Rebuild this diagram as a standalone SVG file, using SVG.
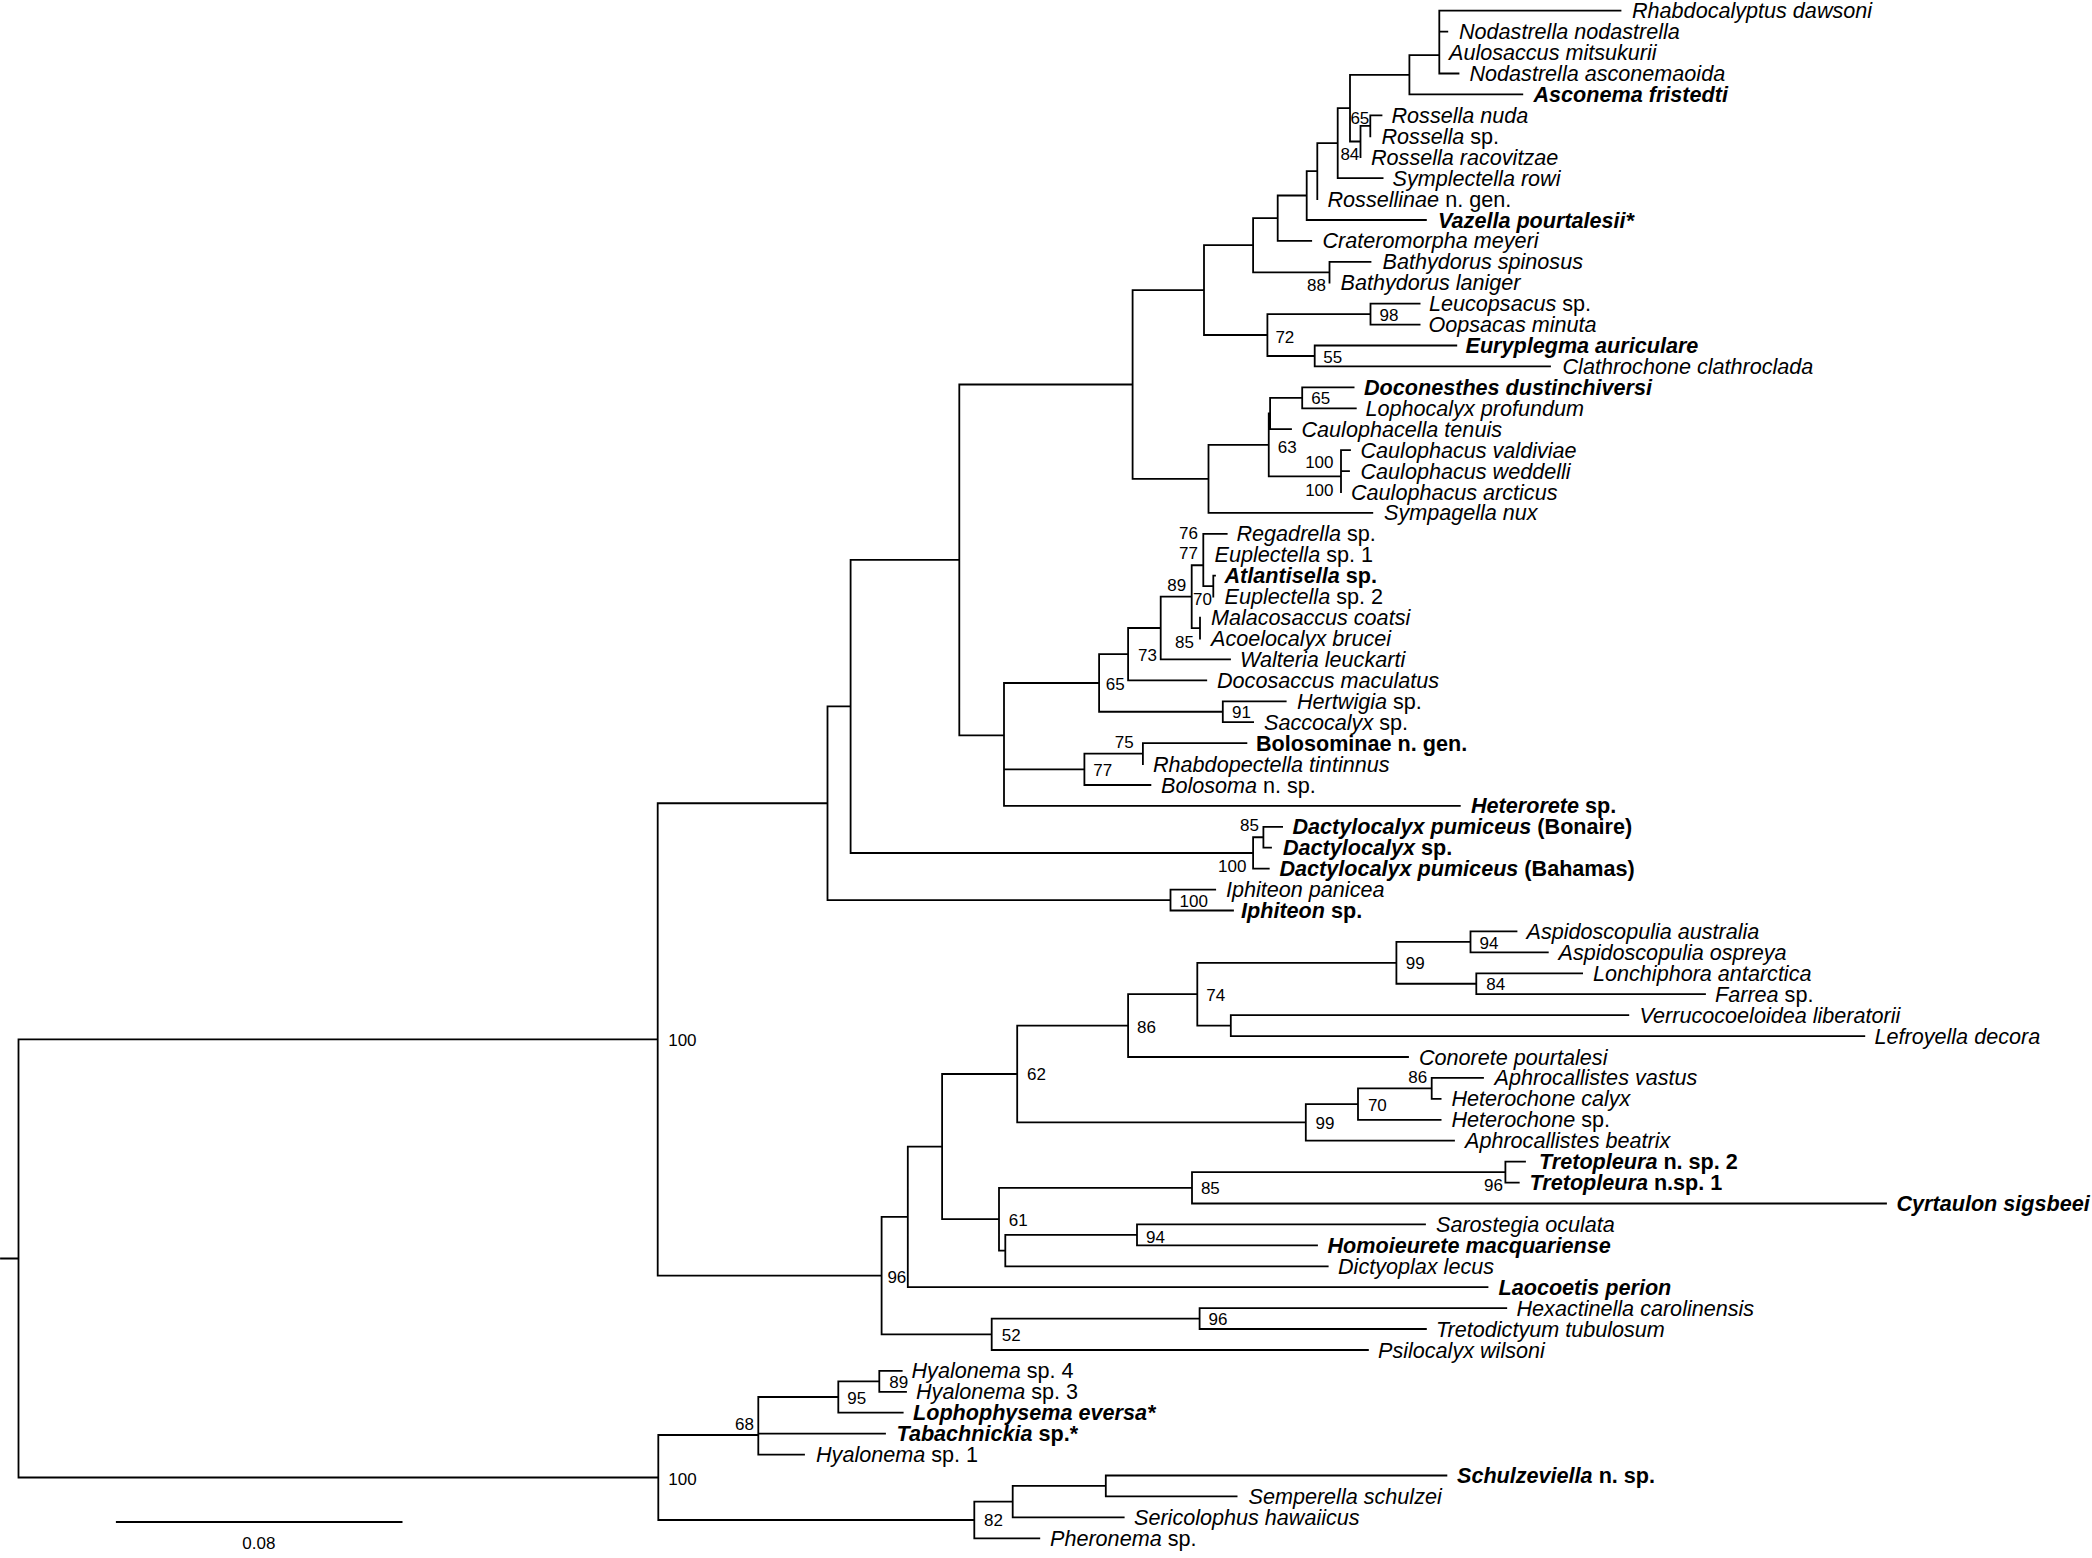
<svg xmlns="http://www.w3.org/2000/svg" width="2092" height="1558" viewBox="0 0 2092 1558">
<style>
.br{fill:none;stroke:#000;stroke-width:1.8;stroke-linecap:square}
.t{font-family:"Liberation Sans",Arial,Helvetica,sans-serif;font-size:21.6px;fill:#000}
.i{font-style:italic}
.b{font-weight:bold}
.s{font-family:"Liberation Sans",Arial,Helvetica,sans-serif;font-size:17px;fill:#000}
.e{text-anchor:end}
</style>
<rect width="2092" height="1558" fill="#fff"/>
<g id="connectors">
<path class="br" d="M1439.3 10.7V73.5M1439.3 10.7H1620.5M1439.3 31.6H1447.3M1439.3 73.5H1458.5
M1409.4 55.2V94.4M1409.4 55.2H1439.3M1409.4 94.4H1522.3
M1370.3 115.3V136.3M1370.3 115.3H1381.5
M1360.5 125.8V157.2M1360.5 125.8H1370.3
M1350 74.8V141.5M1350 74.8H1409.4M1350 141.5H1360.5
M1337.7 108.2V178.1M1337.7 108.2H1350M1337.7 178.1H1382.6
M1317.3 143.2V199M1317.3 143.2H1337.7
M1306.7 171.1V220M1306.7 171.1H1317.3M1306.7 220H1425.9
M1277.7 195.5V240.9M1277.7 195.5H1306.7M1277.7 240.9H1311.2
M1329.5 261.8V282.7M1329.5 261.8H1370.5
M1253.1 218.2V272.3M1253.1 218.2H1277.7M1253.1 272.3H1329.5
M1370.5 303.7V324.6M1370.5 303.7H1419.6M1370.5 324.6H1419.6
M1314.7 345.5V366.4M1314.7 345.5H1456.3M1314.7 366.4H1550
M1267.4 314.1V356M1267.4 314.1H1370.5M1267.4 356H1314.7
M1204 245.2V335M1204 245.2H1253.1M1204 335H1267.4
M1302.2 387.4V408.3M1302.2 387.4H1353.6M1302.2 408.3H1355.8
M1270.1 397.8V429.2M1270.1 397.8H1302.2M1270.1 429.2H1291
M1341 450.1V492M1341 450.1H1350M1341 471.1H1349
M1268.75 413.5V476.3M1268.75 413.5H1270.1M1268.75 476.3H1341
M1208.5 444.9V512.9M1208.5 444.9H1268.75M1208.5 512.9H1372.3
M1132.6 290.1V478.9M1132.6 290.1H1204M1132.6 478.9H1208.5
M1203.3 533.9V586.15M1203.3 533.9H1226.7M1203.3 586.15H1213.3
M1213.3 575.7V596.6M1213.3 575.7H1215
M1200 617.6V638.5
M1191.7 565.25V628.05M1191.7 565.25H1203.3M1191.7 628.05H1200
M1160.7 596.65V659.4M1160.7 596.65H1191.7M1160.7 659.4H1230
M1128.1 628V680.3M1128.1 628H1160.7M1128.1 680.3H1206.25
M1222.8 701.3V722.2M1222.8 701.3H1285.7M1222.8 722.2H1253.1
M1099.1 654.2V711.75M1099.1 654.2H1128.1M1099.1 711.75H1222.8
M1142.9 743.1V764M1142.9 743.1H1246.4
M1084.4 753.55V785M1084.4 753.55H1142.9M1084.4 785H1150.4
M1004 683V805.9M1004 769.3H1084.4M1004 805.9H1459.8M1004 683H1099.1
M959.3 384.5V735.3M959.3 384.5H1132.6M959.3 735.3H1004
M1263.4 826.8V847.7M1263.4 826.8H1282.1M1263.4 847.7H1271
M1253.1 837.25V868.7M1253.1 837.25H1263.4M1253.1 868.7H1268.75
M850.6 559.9V853M850.6 559.9H959.3M850.6 853H1253.1
M1170.5 889.6V910.5M1170.5 889.6H1215.2M1170.5 910.5H1233
M827.5 706.45V900.05M827.5 706.45H850.6M827.5 900.05H1170.5
M1470.5 931.4V952.4M1470.5 931.4H1516.5M1470.5 952.4H1547.8
M1476.3 973.3V994.2M1476.3 973.3H1582.1M1476.3 994.2H1705
M1396.4 941.9V983.75M1396.4 941.9H1470.5M1396.4 983.75H1476.3
M1230.8 1015.1V1036.1M1230.8 1015.1H1628.3M1230.8 1036.1H1864.3
M1197.3 962.8V1025.6M1197.3 962.8H1396.4M1197.3 1025.6H1230.8
M1128.1 994.2V1057M1128.1 994.2H1197.3M1128.1 1057H1408
M1431.7 1077.9V1098.9M1431.7 1077.9H1483M1431.7 1098.9H1440.6
M1358 1088.4V1119.8M1358 1088.4H1431.7M1358 1119.8H1440.6
M1305.8 1104.1V1140.7M1305.8 1104.1H1358M1305.8 1140.7H1454
M1017.2 1025.6V1122.4M1017.2 1025.6H1128.1M1017.2 1122.4H1305.8
M1505.4 1161.6V1182.6M1505.4 1161.6H1525M1505.4 1182.6H1518.75
M1192 1172.1V1203.5M1192 1172.1H1505.4M1192 1203.5H1886
M1137 1224.4V1245.3M1137 1224.4H1425M1137 1245.3H1317
M1005.3 1234.85V1266.3M1005.3 1234.85H1137M1005.3 1266.3H1327.7
M999 1187.8V1250.6M999 1187.8H1192M999 1250.6H1005.3
M942.1 1074V1219.2M942.1 1074H1017.2M942.1 1219.2H999
M907.8 1146.6V1287.2M907.8 1146.6H942.1M907.8 1287.2H1487.5
M1199.6 1308.1V1329M1199.6 1308.1H1506.25M1199.6 1329H1425.9
M991.7 1318.55V1350M991.7 1318.55H1199.6M991.7 1350H1367.9
M881.6 1216.9V1334.3M881.6 1216.9H907.8M881.6 1334.3H991.7
M657.7 803.25V1275.6M657.7 803.25H827.5M657.7 1275.6H881.6
M879.3 1370.9V1391.8M879.3 1370.9H901.7M879.3 1391.8H906
M838.3 1381.35V1412.7M838.3 1381.35H879.3M838.3 1412.7H902.7
M758.3 1397V1454.6M758.3 1397H838.3M758.3 1433.7H885M758.3 1454.6H804
M1105.8 1475.5V1496.4M1105.8 1475.5H1446.4M1105.8 1496.4H1236.6
M1012.7 1485.95V1517.4M1012.7 1485.95H1105.8M1012.7 1517.4H1123.7
M974.3 1501.7V1538.3M974.3 1501.7H1012.7M974.3 1538.3H1039.3
M658.3 1435V1520M658.3 1435H758.3M658.3 1520H974.3
M18.5 1039.4V1477.5M18.5 1039.4H657.7M18.5 1477.5H658.3M1 1258.5H18.5"/>
</g>
<g id="scale-bar">
<path class="br" d="M116.8 1522H401.6"/>
<text class="s" x="258.9" y="1549" text-anchor="middle">0.08</text>
</g>
<g id="leaves">
<g id="leaf-0"><text class="t i" x="1632" y="18.2">Rhabdocalyptus dawsoni</text></g>
<g id="leaf-1"><text class="t i" x="1459" y="39.1">Nodastrella nodastrella</text></g>
<g id="leaf-2"><text class="t i" x="1449" y="60.1">Aulosaccus mitsukurii</text></g>
<g id="leaf-3"><text class="t i" x="1469.5" y="81">Nodastrella asconemaoida</text></g>
<g id="leaf-4"><text class="t i b" x="1533.5" y="101.9">Asconema fristedti</text></g>
<g id="leaf-5"><text class="t i" x="1391.5" y="122.8">Rossella nuda</text></g>
<g id="leaf-6"><text class="t" x="1381.5" y="143.8"><tspan class="i">Rossella</tspan> sp.</text></g>
<g id="leaf-7"><text class="t i" x="1371" y="164.7">Rossella racovitzae</text></g>
<g id="leaf-8"><text class="t i" x="1392.5" y="185.6">Symplectella rowi</text></g>
<g id="leaf-9"><text class="t" x="1327.5" y="206.5"><tspan class="i">Rossellinae</tspan> n. gen.</text></g>
<g id="leaf-10"><text class="t i b" x="1438" y="227.5">Vazella pourtalesii*</text></g>
<g id="leaf-11"><text class="t i" x="1322.5" y="248.4">Crateromorpha meyeri</text></g>
<g id="leaf-12"><text class="t i" x="1382.5" y="269.3">Bathydorus spinosus</text></g>
<g id="leaf-13"><text class="t i" x="1340.5" y="290.2">Bathydorus laniger</text></g>
<g id="leaf-14"><text class="t" x="1429" y="311.2"><tspan class="i">Leucopsacus</tspan> sp.</text></g>
<g id="leaf-15"><text class="t i" x="1428.5" y="332.1">Oopsacas minuta</text></g>
<g id="leaf-16"><text class="t i b" x="1465.5" y="353">Euryplegma auriculare</text></g>
<g id="leaf-17"><text class="t i" x="1562.5" y="373.9">Clathrochone clathroclada</text></g>
<g id="leaf-18"><text class="t i b" x="1364" y="394.9">Doconesthes dustinchiversi</text></g>
<g id="leaf-19"><text class="t i" x="1365.5" y="415.8">Lophocalyx profundum</text></g>
<g id="leaf-20"><text class="t i" x="1301.5" y="436.7">Caulophacella tenuis</text></g>
<g id="leaf-21"><text class="t i" x="1360.5" y="457.6">Caulophacus valdiviae</text></g>
<g id="leaf-22"><text class="t i" x="1360.5" y="478.6">Caulophacus weddelli</text></g>
<g id="leaf-23"><text class="t i" x="1351" y="499.5">Caulophacus arcticus</text></g>
<g id="leaf-24"><text class="t i" x="1384" y="520.4">Sympagella nux</text></g>
<g id="leaf-25"><text class="t" x="1236.5" y="541.4"><tspan class="i">Regadrella</tspan> sp.</text></g>
<g id="leaf-26"><text class="t" x="1214.5" y="562.3"><tspan class="i">Euplectella</tspan> sp. 1</text></g>
<g id="leaf-27"><text class="t b" x="1224.5" y="583.2"><tspan class="i">Atlantisella</tspan> sp.</text></g>
<g id="leaf-28"><text class="t" x="1224.5" y="604.1"><tspan class="i">Euplectella</tspan> sp. 2</text></g>
<g id="leaf-29"><text class="t i" x="1211" y="625.1">Malacosaccus coatsi</text></g>
<g id="leaf-30"><text class="t i" x="1211" y="646">Acoelocalyx brucei</text></g>
<g id="leaf-31"><text class="t i" x="1240" y="666.9">Walteria leuckarti</text></g>
<g id="leaf-32"><text class="t i" x="1217" y="687.8">Docosaccus maculatus</text></g>
<g id="leaf-33"><text class="t" x="1297" y="708.8"><tspan class="i">Hertwigia</tspan> sp.</text></g>
<g id="leaf-34"><text class="t" x="1264" y="729.7"><tspan class="i">Saccocalyx</tspan> sp.</text></g>
<g id="leaf-35"><text class="t b" x="1256" y="750.6">Bolosominae n. gen.</text></g>
<g id="leaf-36"><text class="t i" x="1153" y="771.5">Rhabdopectella tintinnus</text></g>
<g id="leaf-37"><text class="t" x="1161" y="792.5"><tspan class="i">Bolosoma</tspan> n. sp.</text></g>
<g id="leaf-38"><text class="t b" x="1471" y="813.4"><tspan class="i">Heterorete</tspan> sp.</text></g>
<g id="leaf-39"><text class="t b" x="1292.5" y="834.3"><tspan class="i">Dactylocalyx pumiceus</tspan> (Bonaire)</text></g>
<g id="leaf-40"><text class="t b" x="1283" y="855.2"><tspan class="i">Dactylocalyx</tspan> sp.</text></g>
<g id="leaf-41"><text class="t b" x="1279.5" y="876.2"><tspan class="i">Dactylocalyx pumiceus</tspan> (Bahamas)</text></g>
<g id="leaf-42"><text class="t i" x="1226" y="897.1">Iphiteon panicea</text></g>
<g id="leaf-43"><text class="t b" x="1241" y="918"><tspan class="i">Iphiteon</tspan> sp.</text></g>
<g id="leaf-44"><text class="t i" x="1526.5" y="938.9">Aspidoscopulia australia</text></g>
<g id="leaf-45"><text class="t i" x="1558.5" y="959.9">Aspidoscopulia ospreya</text></g>
<g id="leaf-46"><text class="t i" x="1593" y="980.8">Lonchiphora antarctica</text></g>
<g id="leaf-47"><text class="t" x="1715" y="1001.7"><tspan class="i">Farrea</tspan> sp.</text></g>
<g id="leaf-48"><text class="t i" x="1639.5" y="1022.6">Verrucocoeloidea liberatorii</text></g>
<g id="leaf-49"><text class="t i" x="1874.5" y="1043.6">Lefroyella decora</text></g>
<g id="leaf-50"><text class="t i" x="1419" y="1064.5">Conorete pourtalesi</text></g>
<g id="leaf-51"><text class="t i" x="1494.5" y="1085.4">Aphrocallistes vastus</text></g>
<g id="leaf-52"><text class="t i" x="1451.5" y="1106.4">Heterochone calyx</text></g>
<g id="leaf-53"><text class="t" x="1451.5" y="1127.3"><tspan class="i">Heterochone</tspan> sp.</text></g>
<g id="leaf-54"><text class="t i" x="1465" y="1148.2">Aphrocallistes beatrix</text></g>
<g id="leaf-55"><text class="t b" x="1539" y="1169.1"><tspan class="i">Tretopleura</tspan> n. sp. 2</text></g>
<g id="leaf-56"><text class="t b" x="1529.5" y="1190.1"><tspan class="i">Tretopleura</tspan> n.sp. 1</text></g>
<g id="leaf-57"><text class="t i b" x="1896.5" y="1211">Cyrtaulon sigsbeei</text></g>
<g id="leaf-58"><text class="t i" x="1436" y="1231.9">Sarostegia oculata</text></g>
<g id="leaf-59"><text class="t i b" x="1327.5" y="1252.8">Homoieurete macquariense</text></g>
<g id="leaf-60"><text class="t i" x="1338" y="1273.8">Dictyoplax lecus</text></g>
<g id="leaf-61"><text class="t i b" x="1498.5" y="1294.7">Laocoetis perion</text></g>
<g id="leaf-62"><text class="t i" x="1516.5" y="1315.6">Hexactinella carolinensis</text></g>
<g id="leaf-63"><text class="t i" x="1436" y="1336.5">Tretodictyum tubulosum</text></g>
<g id="leaf-64"><text class="t i" x="1378" y="1357.5">Psilocalyx wilsoni</text></g>
<g id="leaf-65"><text class="t" x="911.5" y="1378.4"><tspan class="i">Hyalonema</tspan> sp. 4</text></g>
<g id="leaf-66"><text class="t" x="916" y="1399.3"><tspan class="i">Hyalonema</tspan> sp. 3</text></g>
<g id="leaf-67"><text class="t i b" x="913" y="1420.2">Lophophysema eversa*</text></g>
<g id="leaf-68"><text class="t b" x="896.5" y="1441.2"><tspan class="i">Tabachnickia</tspan> sp.*</text></g>
<g id="leaf-69"><text class="t" x="816" y="1462.1"><tspan class="i">Hyalonema</tspan> sp. 1</text></g>
<g id="leaf-70"><text class="t b" x="1457" y="1483"><tspan class="i">Schulzeviella</tspan> n. sp.</text></g>
<g id="leaf-71"><text class="t i" x="1248.5" y="1503.9">Semperella schulzei</text></g>
<g id="leaf-72"><text class="t i" x="1134" y="1524.9">Sericolophus hawaiicus</text></g>
<g id="leaf-73"><text class="t" x="1050" y="1545.8"><tspan class="i">Pheronema</tspan> sp.</text></g>
</g>
<g id="support">
<g id="sup-1"><text class="s e" x="1369.3" y="124.3">65</text></g>
<g id="sup-2"><text class="s e" x="1359.3" y="160.3">84</text></g>
<g id="sup-3"><text class="s e" x="1326" y="291">88</text></g>
<g id="sup-4"><text class="s" x="1379.5" y="321">98</text></g>
<g id="sup-5"><text class="s" x="1275.4" y="342.7">72</text></g>
<g id="sup-6"><text class="s" x="1323.2" y="363.3">55</text></g>
<g id="sup-7"><text class="s" x="1311.2" y="404.3">65</text></g>
<g id="sup-8"><text class="s" x="1277.7" y="452.7">63</text></g>
<g id="sup-9"><text class="s e" x="1333.5" y="467.7">100</text></g>
<g id="sup-10"><text class="s e" x="1333.5" y="496">100</text></g>
<g id="sup-11"><text class="s e" x="1198" y="538.7">76</text></g>
<g id="sup-12"><text class="s e" x="1198" y="559.3">77</text></g>
<g id="sup-13"><text class="s" x="1167.3" y="591">89</text></g>
<g id="sup-14"><text class="s" x="1193" y="605">70</text></g>
<g id="sup-15"><text class="s" x="1175" y="647.7">85</text></g>
<g id="sup-16"><text class="s" x="1138" y="661">73</text></g>
<g id="sup-17"><text class="s" x="1105.8" y="690">65</text></g>
<g id="sup-18"><text class="s" x="1232" y="718.3">91</text></g>
<g id="sup-19"><text class="s" x="1114.7" y="747.7">75</text></g>
<g id="sup-20"><text class="s" x="1093.3" y="776">77</text></g>
<g id="sup-21"><text class="s e" x="1259" y="831">85</text></g>
<g id="sup-22"><text class="s e" x="1246.4" y="872">100</text></g>
<g id="sup-23"><text class="s" x="1179.5" y="906.7">100</text></g>
<g id="sup-24"><text class="s" x="1479.5" y="948.7">94</text></g>
<g id="sup-25"><text class="s" x="1405.8" y="969.3">99</text></g>
<g id="sup-26"><text class="s" x="1486.2" y="990">84</text></g>
<g id="sup-27"><text class="s" x="1206.25" y="1001">74</text></g>
<g id="sup-28"><text class="s" x="1137" y="1032.7">86</text></g>
<g id="sup-29"><text class="s" x="668.2" y="1046">100</text></g>
<g id="sup-30"><text class="s" x="1027" y="1080">62</text></g>
<g id="sup-31"><text class="s e" x="1427.2" y="1082.7">86</text></g>
<g id="sup-32"><text class="s" x="1367.9" y="1111">70</text></g>
<g id="sup-33"><text class="s" x="1315.6" y="1129.3">99</text></g>
<g id="sup-34"><text class="s e" x="1503" y="1191">96</text></g>
<g id="sup-35"><text class="s" x="1200.9" y="1194.3">85</text></g>
<g id="sup-36"><text class="s" x="1008.8" y="1226">61</text></g>
<g id="sup-37"><text class="s" x="1146" y="1242.7">94</text></g>
<g id="sup-38"><text class="s" x="887.4" y="1282.7">96</text></g>
<g id="sup-39"><text class="s" x="1208.5" y="1325.3">96</text></g>
<g id="sup-40"><text class="s" x="1001.7" y="1341">52</text></g>
<g id="sup-41"><text class="s" x="889.3" y="1387.7">89</text></g>
<g id="sup-42"><text class="s" x="847.3" y="1404.3">95</text></g>
<g id="sup-43"><text class="s e" x="754" y="1430">68</text></g>
<g id="sup-44"><text class="s" x="668.3" y="1485">100</text></g>
<g id="sup-45"><text class="s" x="984" y="1526">82</text></g>
</g>
</svg>
